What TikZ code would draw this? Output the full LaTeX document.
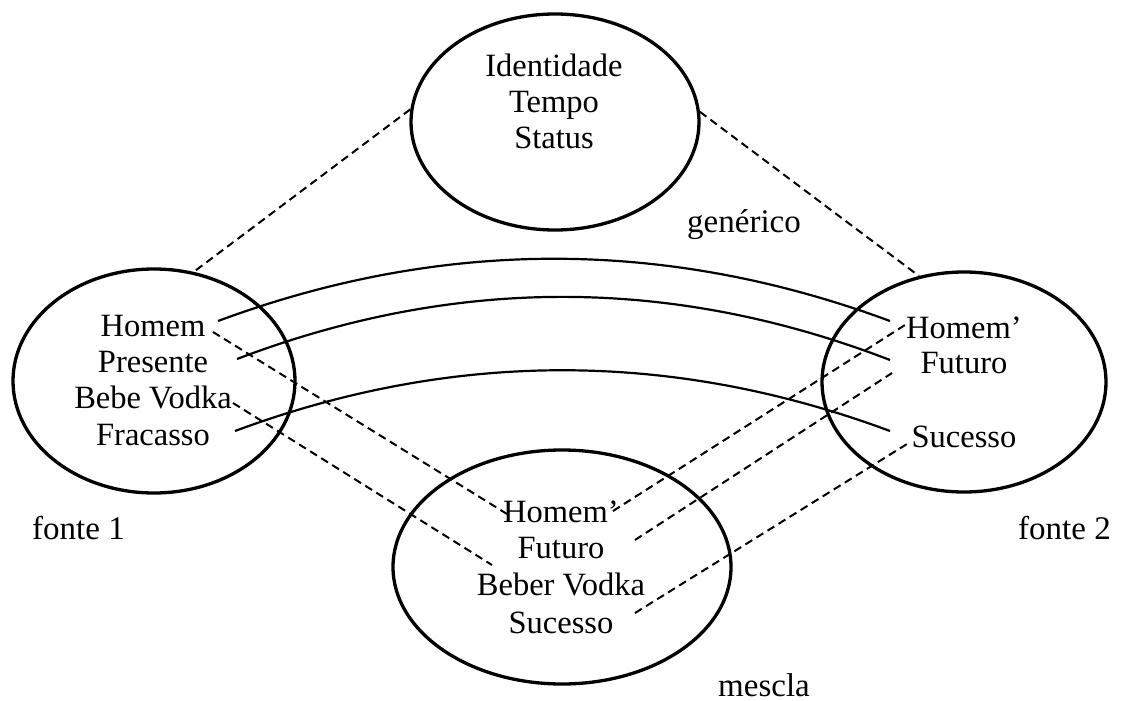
\documentclass[tikz,border=0pt]{standalone}
\usepackage{fontspec}
\setmainfont{Liberation Serif}
\usetikzlibrary{shapes.geometric}
\begin{document}
\begin{tikzpicture}[x=1pt,y=-1pt,
  space/.style={draw=black,line width=3.3pt,ellipse,inner sep=0pt},
  item/.style={anchor=base,inner sep=0pt,font=\fontsize{32.5}{36}\selectfont},
  caption/.style={anchor=base west,inner sep=0pt,font=\fontsize{33}{38}\selectfont},
  link/.style={draw=black,line width=2.2pt},
  proj/.style={draw=black,line width=2pt,dash pattern=on 8pt off 5pt}]
\useasboundingbox (0,0) rectangle (1122,701);

% the four mental spaces
\node[space,minimum width=288pt,minimum height=216pt] (gen) at (555,122) {};
\node[space,minimum width=282pt,minimum height=224pt] (src1) at (154,381) {};
\node[space,minimum width=284pt,minimum height=220pt] (src2) at (964,382) {};
\node[space,minimum width=338pt,minimum height=234pt] (blend) at (562,567) {};

% generic space
\node[item] (g1) at (554,77) {Identidade};
\node[item] (g2) at (554,113) {Tempo};
\node[item] (g3) at (554,148) {Status};

% input space 1
\node[item] (a1) at (153,336) {Homem};
\node[item] (a2) at (153,372) {Presente};
\node[item] (a3) at (153,408) {Bebe Vodka};
\node[item] (a4) at (153,445) {Fracasso};

% input space 2
\node[item] (b1) at (964,338) {Homem’};
\node[item] (b2) at (964,373) {Futuro};
\node[item] (b3) at (964,447) {Sucesso};

% blended space
\node[item] (m1) at (561,522) {Homem’};
\node[item] (m2) at (561,558) {Futuro};
\node[item] (m3) at (561,595) {Beber Vodka};
\node[item] (m4) at (561,633) {Sucesso};

% space captions
\node[caption] (c1) at (32,539) {fonte 1};
\node[caption] (c2) at (1018,539) {fonte 2};
\node[caption] (c3) at (687,232) {genérico};
\node[caption] (c4) at (718,696) {mescla};

% connector ends next to the words
\coordinate (a1s) at (218,321);
\coordinate (a1d) at (213,332);
\coordinate (a2s) at (237,359);
\coordinate (a3d) at (233,403);
\coordinate (a4s) at (235,431);
\coordinate (b1s) at (890,321);
\coordinate (b1d) at (905,325);
\coordinate (b2s) at (890,360);
\coordinate (b2d) at (892,373);
\coordinate (b3s) at (890,431);
\coordinate (b3d) at (907,444);
\coordinate (m1l) at (507,514);
\coordinate (m1r) at (613,511);
\coordinate (m2r) at (635,540);
\coordinate (m3l) at (492,565);
\coordinate (m4r) at (635,613);

% cross-space mappings
\draw[link] (a1s) .. controls (442,238) and (666,238) .. (b1s);
\draw[link] (a2s) .. controls (455,276) and (672,276) .. (b2s);
\draw[link] (a4s) .. controls (453,350) and (672,350) .. (b3s);

% generic space to inputs
\draw[proj] (gen.175) -- (src1.70);
\draw[proj] (gen.4) -- (src2.113);

% projections into the blend
\draw[proj] (a1d) -- (m1l);
\draw[proj] (a3d) -- (m3l);
\draw[proj] (m1r) -- (b1d);
\draw[proj] (m2r) -- (b2d);
\draw[proj] (m4r) -- (b3d);
\end{tikzpicture}
\end{document}
